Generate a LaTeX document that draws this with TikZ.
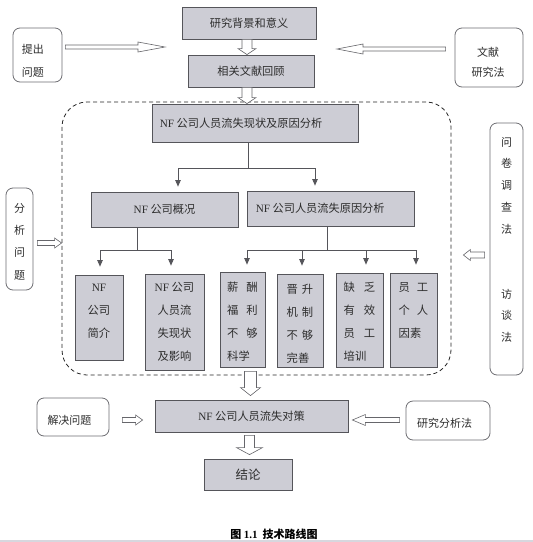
\documentclass[tikz,border=0pt]{standalone}
\usepackage{fontspec}
\setmainfont{Noto Sans CJK SC}
\newfontfamily\lat{Liberation Serif}
\usetikzlibrary{calc,arrows.meta}
\definecolor{boxfill}{RGB}{205,205,213}
\definecolor{edge}{RGB}{85,85,90}
\definecolor{txt}{RGB}{45,45,45}
\definecolor{band}{RGB}{215,215,222}
\newcommand\vblock[5]{\draw[harrow] let \p1=(#1), \p2=(#2) in ({\x1-#3},{\y1}) -- ({\x1-#3},{\y2+#5}) -- ({\x1-#4},{\y2+#5}) -- ({\x1},{\y2}) -- ({\x1+#4},{\y2+#5}) -- ({\x1+#3},{\y2+#5}) -- ({\x1+#3},{\y1}) -- cycle;}
\newcommand\hblock[5]{\draw[harrow] let \p1=(#1), \p2=(#2), \n1={sign(\x2-\x1)} in ({\x1},{\y1-#3}) -- ({\x2-(\n1)*#5},{\y1-#3}) -- ({\x2-(\n1)*#5},{\y1-#4}) -- ({\x2},{\y1}) -- ({\x2-(\n1)*#5},{\y1+#4}) -- ({\x2-(\n1)*#5},{\y1+#3}) -- ({\x1},{\y1+#3}) -- cycle;}
\begin{document}
\begin{tikzpicture}[x=1pt,y=-1pt,
 gbox/.style={draw=edge, line width=0.8pt, fill=boxfill, inner sep=0pt, text=txt, font=\fontsize{11.2}{13}\selectfont},
 wbox/.style={draw=edge!85, line width=0.8pt, fill=white, rounded corners=7pt, inner sep=0pt},
 lbl/.style={inner sep=0pt, text=txt, font=\fontsize{11.2}{13}\selectfont},
 col/.style={inner sep=0pt, text=txt, font=\fontsize{11.3}{23}\selectfont, align=left},
 side/.style={inner sep=0pt, text=txt, align=center},
 ln/.style={draw=edge, line width=0.7pt},
 arr/.style={ln, -{Triangle[length=6.5pt,width=5.5pt]}},
 harrow/.style={draw=edge!90, line width=0.6pt, fill=white, line join=miter},
 grpbox/.style={draw=black!85, line width=0.8pt, dash pattern=on 4pt off 3pt, rounded corners=25pt, inner sep=0pt}]
\useasboundingbox (0,0) rectangle (533,542);
\fill[white] (0,0) rectangle (533,542);
\fill[band] (0,539.5) rectangle (533,542);

% dashed region
\node[grpbox, minimum width=389pt, minimum height=273pt] (grp) at (256.5,238.5) {};

% main boxes
\node[gbox, minimum width=134pt, minimum height=32pt] (b1) at (249,23) {研究背景和意义};
\node[gbox, minimum width=126pt, minimum height=32pt] (b2) at (251,71) {相关文献回顾};
\node[gbox, minimum width=206pt, minimum height=38pt] (b3) at (255,123) {};
\node[lbl, anchor=west] (b3t) at ($(b3.west)+(8,0)$) {{\lat NF} 公司人员流失现状及原因分析};
\node[gbox, minimum width=147pt, minimum height=35pt] (b4) at (164.5,209.5) {{\lat NF} 公司概况};
\node[gbox, minimum width=167pt, minimum height=35pt] (b5) at (330.5,208.5) {};
\node[lbl, anchor=west] (b5t) at ($(b5.west)+(9,0)$) {{\lat NF} 公司人员流失原因分析};

\node[gbox, minimum width=48pt, minimum height=85pt] (c1) at (99,317.5) {};
\node[gbox, minimum width=59pt, minimum height=96pt] (c2) at (174.5,322) {};
\node[gbox, minimum width=45pt, minimum height=95pt] (c3) at (242.5,319.5) {};
\node[gbox, minimum width=46pt, minimum height=93pt] (c4) at (300,320.5) {};
\node[gbox, minimum width=47pt, minimum height=94pt] (c5) at (359.5,320) {};
\node[gbox, minimum width=47pt, minimum height=94pt] (c6) at (413.5,320) {};
\node[col, align=center, anchor=north] (c1t) at ($(c1.north)+(0,9.5)$) {{\lat NF}\\公司\\简介};
\node[col, align=center, anchor=north] (c2t) at ($(c2.north)+(0,8.5)$) {{\lat NF} 公司\\人员流\\失现状\\及影响};
\node[col, anchor=north] (c3t) at ($(c3.north)+(0,10.5)$) {薪\hspace{8pt}酬\\福\hspace{8pt}利\\不\hspace{8pt}够\\科学};
\node[col, anchor=north] (c4t) at ($(c4.north)+(0,10.5)$) {晋\hspace{4pt}升\\机\hspace{4pt}制\\不\hspace{4pt}够\\完善};
\node[col, anchor=north] (c5t) at ($(c5.north)+(0,9.5)$) {缺\hspace{9pt}乏\\有\hspace{9pt}效\\员\hspace{9pt}工\\培训};
\node[col, anchor=north] (c6t) at ($(c6.north)+(0,9.5)$) {员\hspace{7pt}工\\个\hspace{7pt}人\\因素};

\node[gbox, minimum width=193pt, minimum height=32pt] (d) at (251.5,416) {{\lat NF} 公司人员流失对策};
\node[gbox, minimum width=88pt, minimum height=31pt, font=\fontsize{12.5}{14}\selectfont] (e) at (248,474.5) {结论};

% side boxes
\node[wbox, minimum width=49pt, minimum height=54pt] (s1) at (37.5,55) {};
\node[side, font=\fontsize{11}{23}\selectfont] (s1t) at ($(s1.center)+(-4.5,5.5)$) {提出\\问题};
\node[wbox, minimum width=68pt, minimum height=59pt] (s2) at (489,57.5) {};
\node[side, font=\fontsize{11}{20}\selectfont] (s2t) at ($(s2.center)+(-1,4.5)$) {文献\\研究法};
\node[wbox, minimum width=27pt, minimum height=102pt] (s3) at (19.5,239) {};
\node[side, font=\fontsize{11}{22.3}\selectfont] (s3t) at ($(s3.center)+(0,2.5)$) {分\\析\\问\\题};
\node[wbox, minimum width=33pt, minimum height=252pt] (s4) at (506.5,249) {};
\node[side, font=\fontsize{11}{21.7}\selectfont, anchor=north] (s4t) at ($(s4.north)+(0,14.3)$) {问\\卷\\调\\查\\法\\[43.4pt]访\\谈\\法};
\node[wbox, minimum width=72pt, minimum height=38pt] (s5) at (73,417) {};
\node[side, font=\fontsize{11}{13}\selectfont] (s5t) at ($(s5.center)+(-3.5,3)$) {解决问题};
\node[wbox, minimum width=84pt, minimum height=39pt] (s6) at (448,420.5) {};
\node[side, font=\fontsize{11}{13}\selectfont] (s6t) at ($(s6.center)+(-3.5,2.5)$) {研究分析法};

% tree connectors
\draw[ln] ($(b3.south)+(-7,0)$) -- ++(0,26) coordinate (j1);
\draw[arr] (j1) -| ($(b4.north)+(13.5,-5)$);
\draw[arr] (j1) -| ($(b5.north)+(-15.5,-5)$);
\draw[ln] ($(b4.south)+(-27.5,0)$) -- ++(0,23) coordinate (j2);
\draw[arr] (j2) -| ($(c1.north)+(1,-8)$);
\draw[arr] (j2) -| ($(c2.north)+(-3.5,-8)$);
\draw[ln] ($(b5.south)+(-3.5,0)$) -- ++(0,24) coordinate (j3);
\draw[arr] (j3) -| ($(c3.north)+(4.5,-7)$);
\draw[arr] (j3) -| ($(c4.north)+(2,-8)$);
\draw[arr] (j3) -| ($(c5.north)+(6.5,-8)$);
\draw[arr] (j3) -| ($(c6.north)+(2.5,-8)$);

% hollow block arrows (vertical)
\vblock{$(b1.south)+(-2,0)$}{b2.north}{5pt}{9pt}{6pt}
\vblock{$(b2.south)+(-4,0)$}{b3.north}{5pt}{9pt}{6pt}
\vblock{$(grp.south)+(-6,-4)$}{$(d.north)+(0,-4)$}{6pt}{10pt}{8pt}
\vblock{$(d.south)+(-2,3)$}{$(e.north)+(0,-4)$}{5pt}{13pt}{7pt}

% hollow block arrows (horizontal)
\coordinate (p1) at (165,47);
\coordinate (p2) at (337,49);
\hblock{$(s1.east)+(3,-8)$}{p1}{2pt}{5pt}{27pt}
\hblock{$(s2.west)+(-9,-8.5)$}{p2}{2pt}{5pt}{26pt}
\hblock{$(s3.east)+(4,4)$}{$(grp.west)+(0,4.5)$}{2.5pt}{5pt}{7pt}
\hblock{$(s4.west)+(-5,6)$}{$(grp.east)+(12,0)$}{3pt}{5.5pt}{7pt}
\hblock{$(s5.east)+(13,3)$}{$(d.west)+(-12,0)$}{2.5pt}{5pt}{7pt}
\hblock{$(s6.west)+(-6,-0.5)$}{$(d.east)+(4,0)$}{2.5pt}{5.5pt}{13pt}

% caption
\node[inner sep=0pt, font=\fontsize{11}{13}\selectfont\bfseries, text=black] (cap) at (274,534) {图 {\lat 1.1}\hspace{5pt}技术路线图};
\end{tikzpicture}
\end{document}
